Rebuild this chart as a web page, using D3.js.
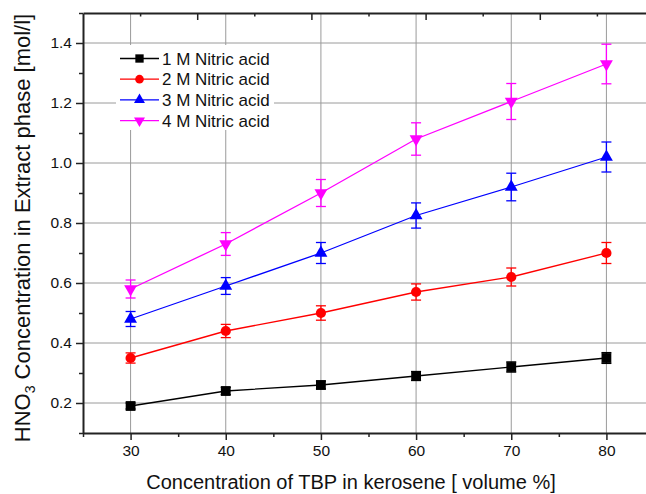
<!DOCTYPE html>
<html>
<head>
<meta charset="utf-8">
<script src="https://cdn.jsdelivr.net/npm/d3@7"></script>
<style>
  body { margin: 0; background: #fff; }
  svg { display: block; font-family: "Liberation Sans", Arial, sans-serif; }
</style>
</head>
<body>
<svg id="chart" width="646" height="494"></svg>
<script>
// data
const tbp = [30, 40, 50, 60, 70, 80];
const acid1 = [0.19, 0.24, 0.26, 0.29, 0.32, 0.35];
const err1 = [0.01, 0.012, 0.013, 0.015, 0.017, 0.018];
const acid2 = [0.35, 0.44, 0.50, 0.57, 0.62, 0.70];
const err2 = [0.017, 0.022, 0.024, 0.027, 0.03, 0.035];
const acid3 = [0.48, 0.59, 0.70, 0.825, 0.92, 1.02];
const err3 = [0.025, 0.028, 0.035, 0.042, 0.046, 0.05];
const acid4 = [0.58, 0.73, 0.90, 1.08, 1.205, 1.33];
const err4 = [0.03, 0.038, 0.045, 0.054, 0.06, 0.066];
const seriesNames = ['1 M Nitric acid', '2 M Nitric acid', '3 M Nitric acid', '4 M Nitric acid'];
const xTicks = [30, 40, 50, 60, 70, 80];
const yTicks = [0.2, 0.4, 0.6, 0.8, 1.0, 1.2, 1.4];

const colors = ['#000000', '#ff0000', '#0000ff', '#ff00ff'];

const series = [
  {name: seriesNames[0], values: acid1, errs: err1, color: colors[0], shape: 'square'},
  {name: seriesNames[1], values: acid2, errs: err2, color: colors[1], shape: 'circle'},
  {name: seriesNames[2], values: acid3, errs: err3, color: colors[2], shape: 'up'},
  {name: seriesNames[3], values: acid4, errs: err4, color: colors[3], shape: 'down'}
];

const svg = d3.select('#chart');
const plotLeft = 83, plotRight = 654, plotTop = 13, plotBottom = 433;

const x = d3.scaleLinear().domain([25, 85]).range([plotLeft, plotRight]);
const y = d3.scaleLinear().domain([0.1, 1.5]).range([plotBottom, plotTop]);
// the top and right axes of the original carry their own (unlabelled) scales
const xTop = d3.scaleLinear().domain([0, 10]).range([plotLeft, plotRight]);
const yRight = d3.scaleLinear().domain([0, 5]).range([plotBottom, plotTop]);

// grid
const grid = svg.append('g').attr('stroke', '#9a9a9a').attr('stroke-width', 1);
grid.selectAll('line.v')
  .data(xTicks)
  .join('line')
  .attr('class', 'v')
  .attr('x1', d => x(d)).attr('x2', d => x(d))
  .attr('y1', plotTop).attr('y2', plotBottom);
grid.selectAll('line.h')
  .data(yTicks)
  .join('line')
  .attr('class', 'h')
  .attr('x1', plotLeft).attr('x2', plotRight)
  .attr('y1', d => y(d)).attr('y2', d => y(d));

// axes
function styleAxis(g) {
  g.select('.domain').attr('stroke', '#222').attr('stroke-width', 2);
  g.selectAll('.tick line').attr('stroke', '#222').attr('stroke-width', 1.5);
  g.selectAll('text').attr('fill', '#111').style('font-size', '15.5px');
}

// bottom: minor ticks first, then major with labels
svg.append('g')
  .attr('transform', `translate(0,${plotBottom})`)
  .call(d3.axisBottom(x).tickValues([25, 35, 45, 55, 65, 75, 85]).tickSize(4).tickFormat('').tickSizeOuter(0))
  .call(styleAxis);
svg.append('g')
  .attr('transform', `translate(0,${plotBottom})`)
  .call(d3.axisBottom(x).tickValues(xTicks).tickSize(7).tickPadding(5).tickSizeOuter(0))
  .call(styleAxis)
  .call(g => g.select('.domain').remove());

// left
svg.append('g')
  .attr('transform', `translate(${plotLeft},0)`)
  .call(d3.axisLeft(y).tickValues([0.1, 0.3, 0.5, 0.7, 0.9, 1.1, 1.3, 1.5]).tickSize(4).tickFormat('').tickSizeOuter(0))
  .call(styleAxis);
svg.append('g')
  .attr('transform', `translate(${plotLeft},0)`)
  .call(d3.axisLeft(y).tickValues(yTicks).tickSize(7).tickPadding(4).tickFormat(d3.format('.1f')).tickSizeOuter(0))
  .call(styleAxis)
  .call(g => g.select('.domain').remove());

// top (ticks point inward)
svg.append('g')
  .attr('transform', `translate(0,${plotTop})`)
  .call(d3.axisBottom(xTop).tickValues([1, 3, 5, 7, 9]).tickSize(3.5).tickFormat('').tickSizeOuter(0))
  .call(styleAxis);
svg.append('g')
  .attr('transform', `translate(0,${plotTop})`)
  .call(d3.axisBottom(xTop).tickValues([2, 4, 6, 8]).tickSize(7).tickFormat('').tickSizeOuter(0))
  .call(styleAxis)
  .call(g => g.select('.domain').remove());

// right (ticks point inward)
svg.append('g')
  .attr('transform', `translate(${plotRight},0)`)
  .call(d3.axisLeft(yRight).tickValues([1, 2, 3, 4]).tickSize(8).tickFormat('').tickSizeOuter(0))
  .call(styleAxis);

// symbols
function symbolPath(shape) {
  if (shape === 'square') return d3.symbol(d3.symbolSquare, 96)();
  if (shape === 'circle') return d3.symbol(d3.symbolCircle, 82)();
  return d3.symbol(d3.symbolTriangle, 72)();
}

const line = d3.line()
  .x(d => x(d.x))
  .y(d => y(d.y));

series.forEach(s => {
  const pts = tbp.map((t, i) => ({x: t, y: s.values[i], e: s.errs[i]}));
  const g = svg.append('g');

  g.append('path')
    .datum(pts)
    .attr('fill', 'none')
    .attr('stroke', s.color)
    .attr('stroke-width', 1.3)
    .attr('d', line);

  // error bars
  const eb = g.selectAll('g.err')
    .data(pts)
    .join('g')
    .attr('class', 'err')
    .attr('stroke', s.color)
    .attr('stroke-width', 1.3);
  eb.append('line')
    .attr('x1', d => x(d.x)).attr('x2', d => x(d.x))
    .attr('y1', d => y(d.y - d.e)).attr('y2', d => y(d.y + d.e));
  eb.append('line')
    .attr('x1', d => x(d.x) - 5).attr('x2', d => x(d.x) + 5)
    .attr('y1', d => y(d.y + d.e)).attr('y2', d => y(d.y + d.e));
  eb.append('line')
    .attr('x1', d => x(d.x) - 5).attr('x2', d => x(d.x) + 5)
    .attr('y1', d => y(d.y - d.e)).attr('y2', d => y(d.y - d.e));

  g.selectAll('path.mark')
    .data(pts)
    .join('path')
    .attr('class', 'mark')
    .attr('fill', s.color)
    .attr('d', symbolPath(s.shape))
    .attr('transform', d => `translate(${x(d.x)},${y(d.y)})` + (s.shape === 'down' ? ' rotate(180)' : ''));
});

// legend
const legend = svg.append('g');
legend.append('rect')
  .attr('x', 116).attr('y', 45)
  .attr('width', 158).attr('height', 85)
  .attr('fill', '#fff');
const rows = legend.selectAll('g.row')
  .data(series)
  .join('g')
  .attr('class', 'row')
  .attr('transform', (d, i) => `translate(120,${58.5 + i * 20.7})`);
rows.append('line')
  .attr('x1', 0).attr('x2', 39)
  .attr('stroke', d => d.color)
  .attr('stroke-width', 1.3);
rows.append('path')
  .attr('fill', d => d.color)
  .attr('d', d => symbolPath(d.shape))
  .attr('transform', d => 'translate(19.5,0) scale(0.85)' + (d.shape === 'down' ? ' rotate(180)' : ''));
rows.append('text')
  .attr('x', 42)
  .attr('dy', '0.36em')
  .style('font-size', '17px')
  .attr('fill', '#111')
  .text(d => d.name);

// axis titles
svg.append('text')
  .attr('x', 351)
  .attr('y', 489)
  .attr('text-anchor', 'middle')
  .style('font-size', '20px')
  .attr('fill', '#111')
  .text('Concentration of TBP in kerosene [ volume %]');

const yt = svg.append('text')
  .attr('transform', 'translate(30,228) rotate(-90)')
  .attr('text-anchor', 'middle')
  .style('font-size', '22px')
  .attr('fill', '#111');
yt.append('tspan').text('HNO');
yt.append('tspan').attr('dy', 5).style('font-size', '14px').text('3');
yt.append('tspan').attr('dy', -5).text(' Concentration in Extract phase [mol/l]');
</script>
</body>
</html>
